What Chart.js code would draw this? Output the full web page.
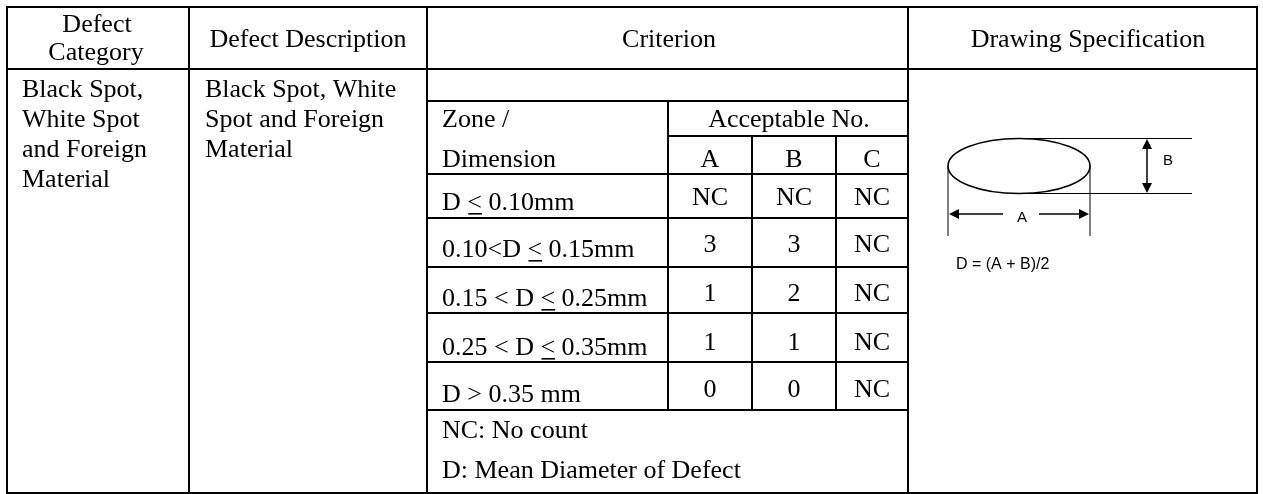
<!DOCTYPE html>
<html>
<head>
<meta charset="utf-8">
<title>Defect criterion table</title>
<script src="https://cdn.jsdelivr.net/npm/chart.js@4/dist/chart.umd.min.js"></script>
<style>
  body { margin: 0; background: #fff; }
  #wrap { width: 1263px; height: 494px; }
</style>
</head>
<body>
<div id="wrap"><canvas id="defectTable" width="1263" height="494"></canvas></div>
<script>
// table content
const headerCategory = ['Defect', 'Category'];
const headerDescription = 'Defect Description';
const headerCriterion = 'Criterion';
const headerDrawing = 'Drawing Specification';
const categoryLines = ['Black Spot,', 'White Spot', 'and Foreign', 'Material'];
const descriptionLines = ['Black Spot, White', 'Spot and Foreign', 'Material'];
const zoneHeader = ['Zone /', 'Dimension'];
const countHeader = 'Acceptable No.';
const zoneNames = ['A', 'B', 'C'];
// "≤" is drawn as an underlined "<" like in the original sheet
const zones = ['D ≤ 0.10mm', '0.10<D ≤ 0.15mm', '0.15 < D ≤ 0.25mm', '0.25 < D ≤ 0.35mm', 'D > 0.35 mm'];
const countsA = ['NC', '3', '1', '1', '0'];
const countsB = ['NC', '3', '2', '1', '0'];
const countsC = ['NC', 'NC', 'NC', 'NC', 'NC'];
const notes = ['NC: No count', 'D: Mean Diameter of Defect'];
const formula = 'D = (A + B)/2';

//layout of the sheet in scale units (x: 0..1263, y: 0..494 top-down)
const colEdges = [7, 189, 427, 908, 1257];
const subColEdges = [427, 668, 752, 836, 908];
const rowEdges = [7, 69, 101, 136, 174, 218, 267, 313, 362, 410, 493];
const zoneBase = [210, 257, 306, 355, 402];

const SERIF = '"Liberation Serif", "Times New Roman", serif';
const SANS = '"Liberation Sans", Arial, sans-serif';
const BODY = '26px ' + SERIF;

//plugin that paints the table cells through the chart scales.
const tablePlugin = {
    id: 'tablePlugin',
    afterDraw(chart) {
        const ctx = chart.ctx;
        const xs = chart.scales.x, ys = chart.scales.y;
        const X = v => xs.getPixelForValue(v);
        const Y = v => ys.getPixelForValue(v);

        const hLine = (y, x1, x2, w) => {
            ctx.lineWidth = w;
            ctx.beginPath(); ctx.moveTo(X(x1), Y(y)); ctx.lineTo(X(x2), Y(y)); ctx.stroke();
        };
        const vLine = (x, y1, y2, w) => {
            ctx.lineWidth = w;
            ctx.beginPath(); ctx.moveTo(X(x), Y(y1)); ctx.lineTo(X(x), Y(y2)); ctx.stroke();
        };
        const text = (str, x, y, align) => {
            ctx.font = BODY;
            ctx.textAlign = align || 'left';
            ctx.textBaseline = 'alphabetic';
            ctx.fillText(str, X(x), Y(y));
        };
        // zone text with the underlined "<"
        const zoneText = (str, x, y) => {
            ctx.font = BODY;
            ctx.textAlign = 'left';
            ctx.textBaseline = 'alphabetic';
            const parts = str.split('≤');
            let cx = X(x);
            ctx.fillText(parts[0], cx, Y(y));
            if (parts.length > 1) {
                cx += ctx.measureText(parts[0]).width;
                ctx.fillText('<', cx, Y(y));
                const w = ctx.measureText('<').width;
                ctx.fillRect(cx + 1, Y(y) + 3, w - 1, 1.6);
                ctx.fillText(parts[1], cx + w, Y(y));
            }
        };

        ctx.save();
        ctx.strokeStyle = '#000';
        ctx.fillStyle = '#000';
        ctx.lineCap = 'square';

        const top = rowEdges[0], bottom = rowEdges[rowEdges.length - 1];
        const left = colEdges[0], right = colEdges[colEdges.length - 1];

        //outer and column borders
        colEdges.forEach(x => vLine(x, top, bottom, 2));
        hLine(top, left, right, 2);
        hLine(rowEdges[1], left, right, 2);
        hLine(bottom, left, right, 2);
        //criterion inner grid
        hLine(rowEdges[2], subColEdges[0], subColEdges[4], 2);
        hLine(rowEdges[3], subColEdges[1], subColEdges[4], 2);
        for (let r = 4; r <= 9; r++) hLine(rowEdges[r], subColEdges[0], subColEdges[4], 2);
        vLine(subColEdges[1], rowEdges[2], rowEdges[9], 2);
        vLine(subColEdges[2], rowEdges[3], rowEdges[9], 2);
        vLine(subColEdges[3], rowEdges[3], rowEdges[9], 2);

        //header row
        text(headerCategory[0], 97, 32, 'center');
        text(headerCategory[1], 96, 60, 'center');
        text(headerDescription, 308, 47, 'center');
        text(headerCriterion, 669, 47, 'center');
        text(headerDrawing, 1088, 47, 'center');

        //left columns
        categoryLines.forEach((s, i) => text(s, 22, 97 + i * 30));
        descriptionLines.forEach((s, i) => text(s, 205, 97 + i * 30));

        //criterion sub table
        text(zoneHeader[0], 442, 127);
        text(zoneHeader[1], 442, 167);
        text(countHeader, 789, 127, 'center');
        const colMid = i => (subColEdges[i + 1] + subColEdges[i + 2]) / 2;
        zoneNames.forEach((s, i) => text(s, colMid(i), 167, 'center'));
        zones.forEach((z, i) => {
            zoneText(z, 442, zoneBase[i]);
            text(countsA[i], colMid(0), zoneBase[i] - 5, 'center');
            text(countsB[i], colMid(1), zoneBase[i] - 5, 'center');
            text(countsC[i], colMid(2), zoneBase[i] - 5, 'center');
        });
        text(notes[0], 442, 438);
        text(notes[1], 442, 478);

        //drawing specification sketch
        ctx.lineWidth = 1.6;
        ctx.beginPath();
        ctx.ellipse(X(1019), Y(166), 71, 27.5, 0, 0, Math.PI * 2);
        ctx.stroke();
        ctx.lineCap = 'butt';
        hLine(138.5, 1018, 1192, 1);
        hLine(193.5, 1018, 1192, 1);
        vLine(948, 166, 236, 1);
        vLine(1090, 166, 236, 1);

        const arrowHead = (x, y, dx, dy) => {
            // tip at (x,y) pointing along (dx,dy)
            const L = 10, H = 5;
            ctx.beginPath();
            ctx.moveTo(X(x), Y(y));
            ctx.lineTo(X(x) - dx * L - dy * H, Y(y) - dy * L - dx * H);
            ctx.lineTo(X(x) - dx * L + dy * H, Y(y) - dy * L + dx * H);
            ctx.closePath();
            ctx.fill();
        };
        vLine(1147, 145, 188, 1.5);
        arrowHead(1147, 139, 0, -1);
        arrowHead(1147, 193, 0, 1);
        hLine(214, 955, 1003, 1.5);
        hLine(214, 1039, 1083, 1.5);
        arrowHead(949, 214, -1, 0);
        arrowHead(1089, 214, 1, 0);

        ctx.textBaseline = 'middle';
        ctx.textAlign = 'center';
        ctx.font = '15px ' + SANS;
        ctx.fillText('B', X(1168), Y(161));
        ctx.fillText('A', X(1022), Y(218));
        ctx.textAlign = 'left';
        ctx.font = '16px ' + SANS;
        ctx.fillText(formula, X(956), Y(265));

        ctx.restore();
    }
};

new Chart('defectTable', {
    type: 'scatter',
    data: { datasets: [{ data: [], pointRadius: 0 }] },
    options: {
        responsive: false,
        devicePixelRatio: 1,
        animation: false,
        layout: { padding: 0 },
        plugins: { legend: { display: false }, tooltip: { enabled: false } },
        scales: {
            x: { type: 'linear', min: 0, max: 1263, display: false },
            y: { type: 'linear', min: 0, max: 494, reverse: true, display: false }
        }
    },
    plugins: [tablePlugin]
});
</script>
</body>
</html>
